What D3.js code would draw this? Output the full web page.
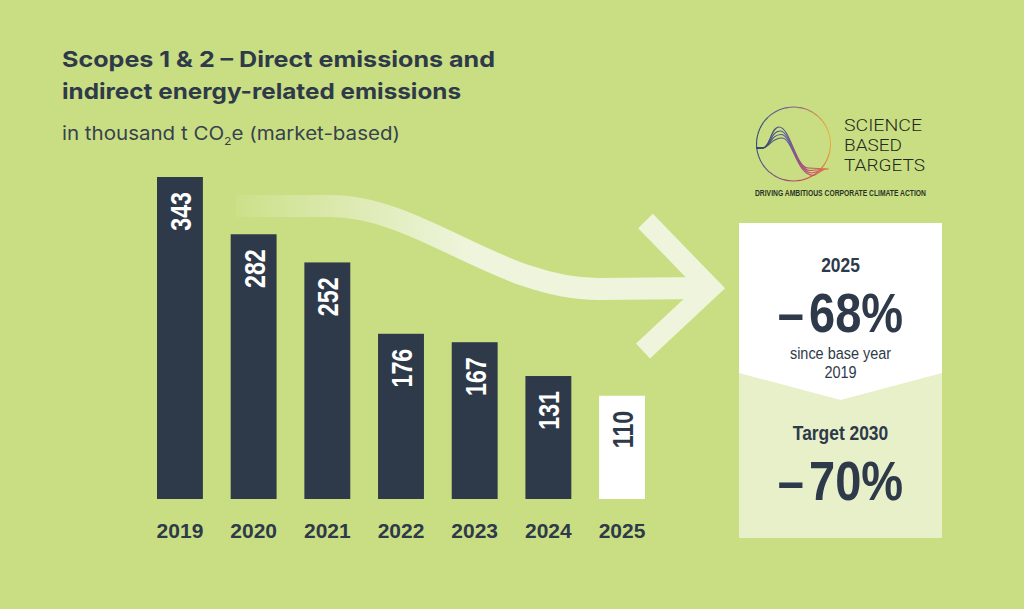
<!DOCTYPE html>
<html>
<head>
<meta charset="utf-8">
<script src="https://cdn.jsdelivr.net/npm/d3@7"></script>
<style>
  html, body { margin: 0; padding: 0; background: #c9de82; }
  svg { display: block; }
</style>
</head>
<body>
<div class="svg-container"></div>
<script>
const years = ['2019', '2020', '2021', '2022', '2023', '2024', '2025']
const values = [343, 282, 252, 176, 167, 131, 110]
const highlight = [false, false, false, false, false, false, true]

const titleLines = ['Scopes 1 & 2 – Direct emissions and', 'indirect energy-related emissions']
const reductionYear = '2025'
const reduction = '68%'
const baseYear = '2019'
const targetLabel = 'Target 2030'
const target = '70%'

;(function init() {
  const width = 1024
  const height = 609
  const bg = '#c9de82'
  const dark = '#2e3a4a'
  const pale = '#eef5dc'
  const sans = '"Liberation Sans", Arial, sans-serif'
  const squeeze = 0.8

  const data = years.map((y, i) => ({ year: y, value: values[i], hl: highlight[i] }))

  const svg = d3
    .select('.svg-container')
    .append('svg')
    .attr('width', width)
    .attr('height', height)

  svg.append('rect').attr('width', width).attr('height', height).attr('fill', bg)

  const defs = svg.append('defs')

  // title
  const titleWidths = [433, 399]
  svg
    .append('g')
    .selectAll('text')
    .data(titleLines)
    .enter()
    .append('text')
    .attr('x', 62)
    .attr('y', (d, i) => 67 + i * 32)
    .attr('font-family', 'Inter, ' + sans)
    .attr('font-weight', 'bold')
    .attr('font-size', 22)
    .attr('fill', dark)
    .attr('textLength', (d, i) => titleWidths[i])
    .attr('lengthAdjust', 'spacingAndGlyphs')
    .text((d) => d)

  const sub = svg
    .append('text')
    .attr('x', 62)
    .attr('y', 140)
    .attr('font-family', 'Inter, ' + sans)
    .attr('font-size', 18.5)
    .attr('fill', '#36414f')
    .attr('textLength', 338)
    .attr('lengthAdjust', 'spacingAndGlyphs')
  sub.append('tspan').text('in thousand t CO')
  sub.append('tspan').attr('font-size', 11).attr('dy', 5).text('2')
  sub.append('tspan').attr('dy', -5).text('e (market-based)')

  // curved arrow
  const grad = defs
    .append('linearGradient')
    .attr('id', 'fade')
    .attr('gradientUnits', 'userSpaceOnUse')
    .attr('x1', 236)
    .attr('x2', 470)
    .attr('y1', 0)
    .attr('y2', 0)
  grad.append('stop').attr('offset', 0).attr('stop-color', pale).attr('stop-opacity', 0.08)
  grad.append('stop').attr('offset', 1).attr('stop-color', pale).attr('stop-opacity', 1)

  const shaft = d3.path()
  shaft.moveTo(236, 206)
  shaft.lineTo(330, 206)
  shaft.bezierCurveTo(420, 206, 500, 290, 600, 289)
  shaft.lineTo(700, 288)
  svg
    .append('path')
    .attr('d', shaft.toString())
    .attr('fill', 'none')
    .attr('stroke', 'url(#fade)')
    .attr('stroke-width', 22)

  svg
    .append('path')
    .attr('d', 'M645.5,221L710.5,288L643,351')
    .attr('fill', 'none')
    .attr('stroke', pale)
    .attr('stroke-width', 20.5)
    .attr('stroke-linejoin', 'miter')

  // bars
  const xScale = d3
    .scaleBand()
    .domain(years)
    .range([157, 645])
    .paddingInner(0.377)
    .paddingOuter(0)

  const yScale = d3.scaleLinear().domain([0, 343]).range([499, 177])

  svg
    .selectAll('rect.bar')
    .data(data)
    .enter()
    .append('rect')
    .attr('class', 'bar')
    .attr('x', (d) => xScale(d.year))
    .attr('y', (d) => yScale(d.value))
    .attr('width', xScale.bandwidth())
    .attr('height', (d) => yScale(0) - yScale(d.value))
    .attr('fill', (d) => (d.hl ? '#ffffff' : dark))

  svg
    .selectAll('text.val')
    .data(data)
    .enter()
    .append('text')
    .attr('class', 'val')
    .attr('transform', (d) => {
      const cx = xScale(d.year) + xScale.bandwidth() / 2 + 11
      const cy = yScale(d.value) + 15
      return 'translate(' + cx + ',' + cy + ') rotate(-90) scale(' + squeeze + ',1)'
    })
    .attr('text-anchor', 'end')
    .attr('font-family', sans)
    .attr('font-weight', 'bold')
    .attr('font-size', 29)
    .attr('fill', (d) => (d.hl ? dark : '#ffffff'))
    .text((d) => d.value)

  const xAxis = d3.axisBottom(xScale).tickSize(0).tickPadding(0)
  const axisG = svg
    .append('g')
    .attr('transform', 'translate(0,523)')
    .call(xAxis)
  axisG.select('.domain').remove()
  axisG
    .selectAll('text')
    .attr('dy', 15)
    .attr('font-family', sans)
    .attr('font-weight', 'bold')
    .attr('font-size', 21)
    .attr('fill', dark)

  // result panel
  const px0 = 739
  const px1 = 942
  const pmid = (px0 + px1) / 2
  svg.append('rect').attr('x', px0).attr('y', 223).attr('width', px1 - px0).attr('height', 315).attr('fill', '#ffffff')
  svg
    .append('path')
    .attr('d', `M${px0},373L${pmid},400L${px1},373L${px1},538L${px0},538Z`)
    .attr('fill', '#e8f0c9')

  const panelText = (txt, y, size, weight, sx) =>
    svg
      .append('text')
      .attr('transform', 'translate(' + pmid + ',' + y + ') scale(' + sx + ',1)')
      .attr('text-anchor', 'middle')
      .attr('font-family', sans)
      .attr('font-weight', weight)
      .attr('font-size', size)
      .attr('fill', dark)
      .text(txt)

  panelText(reductionYear, 272, 20, 'bold', 0.87)
  const big1 = panelText('', 332, 56, 'bold', 0.84)
  big1.append('tspan').text('–')
  big1.append('tspan').attr('dx', 6).text(reduction)
  panelText('since base year', 359, 17, 'normal', 0.85)
  panelText(baseYear, 378, 17, 'normal', 0.85)
  panelText(targetLabel, 440, 20, 'bold', 0.87)
  const big2 = panelText('', 500, 56, 'bold', 0.84)
  big2.append('tspan').text('–')
  big2.append('tspan').attr('dx', 6).text(target)

  // SBTi logo
  const lc = [793.5, 144]
  const ringColor = d3.interpolateRgbBasis(['#8a5f95', '#d98a4a', '#efc84a', '#e0703e', '#cc3f5a', '#8e4a8c', '#3c5f9a', '#2c3e5a', '#4a5d9e', '#8a5f95'])
  const nSeg = 72
  const arc = d3.arc().innerRadius(36.4).outerRadius(37.5)
  svg
    .append('g')
    .attr('transform', 'translate(' + lc + ')')
    .selectAll('path')
    .data(d3.range(nSeg))
    .enter()
    .append('path')
    .attr('d', (i) => arc({ startAngle: (i / nSeg) * 2 * Math.PI, endAngle: ((i + 1.05) / nSeg) * 2 * Math.PI }))
    .attr('fill', (i) => ringColor(i / nSeg))

  const lg = defs
    .append('linearGradient')
    .attr('id', 'logoLines')
    .attr('gradientUnits', 'userSpaceOnUse')
    .attr('x1', 756)
    .attr('x2', 830)
    .attr('y1', 0)
    .attr('y2', 0)
  lg.append('stop').attr('offset', 0).attr('stop-color', '#2c3e5a')
  lg.append('stop').attr('offset', 0.4).attr('stop-color', '#5a5aa0')
  lg.append('stop').attr('offset', 0.75).attr('stop-color', '#c94a6a')
  lg.append('stop').attr('offset', 1).attr('stop-color', '#e08a40')

  const peaks = [127, 131, 134.5, 138]
  const ends = [168, 170.5, 173, 175.5]
  svg
    .append('g')
    .selectAll('path')
    .data(peaks)
    .enter()
    .append('path')
    .attr('d', (p, i) => {
      const q = d3.path()
      q.moveTo(756.5, 148)
      q.lineTo(763, 148)
      q.bezierCurveTo(770, 147, 771, p, 779 + i, p)
      q.bezierCurveTo(790 + i, p, 796, ends[i], 808 + i * 2, ends[i])
      q.lineTo(829 - i * 1.5, ends[0] + 1)
      return q.toString()
    })
    .attr('fill', 'none')
    .attr('stroke', 'url(#logoLines)')
    .attr('stroke-width', 1.1)

  const logoWords = ['SCIENCE', 'BASED', 'TARGETS']
  const logoWidths = [78, 58, 81]
  svg
    .append('g')
    .selectAll('text')
    .data(logoWords)
    .enter()
    .append('text')
    .attr('x', 844)
    .attr('y', (d, i) => 131 + i * 20)
    .attr('font-family', 'Roboto, "Liberation Sans", sans-serif')
    .attr('font-weight', 300)
    .attr('font-size', 17)
    .attr('fill', '#1f2a20')
    .attr('textLength', (d, i) => logoWidths[i])
    .attr('lengthAdjust', 'spacingAndGlyphs')
    .text((d) => d)

  svg
    .append('text')
    .attr('x', 755)
    .attr('y', 196)
    .attr('font-family', sans)
    .attr('font-weight', 'bold')
    .attr('font-size', 8.6)
    .attr('fill', '#2a3328')
    .attr('textLength', 171)
    .attr('lengthAdjust', 'spacingAndGlyphs')
    .text('DRIVING AMBITIOUS CORPORATE CLIMATE ACTION')
})()
</script>
</body>
</html>
